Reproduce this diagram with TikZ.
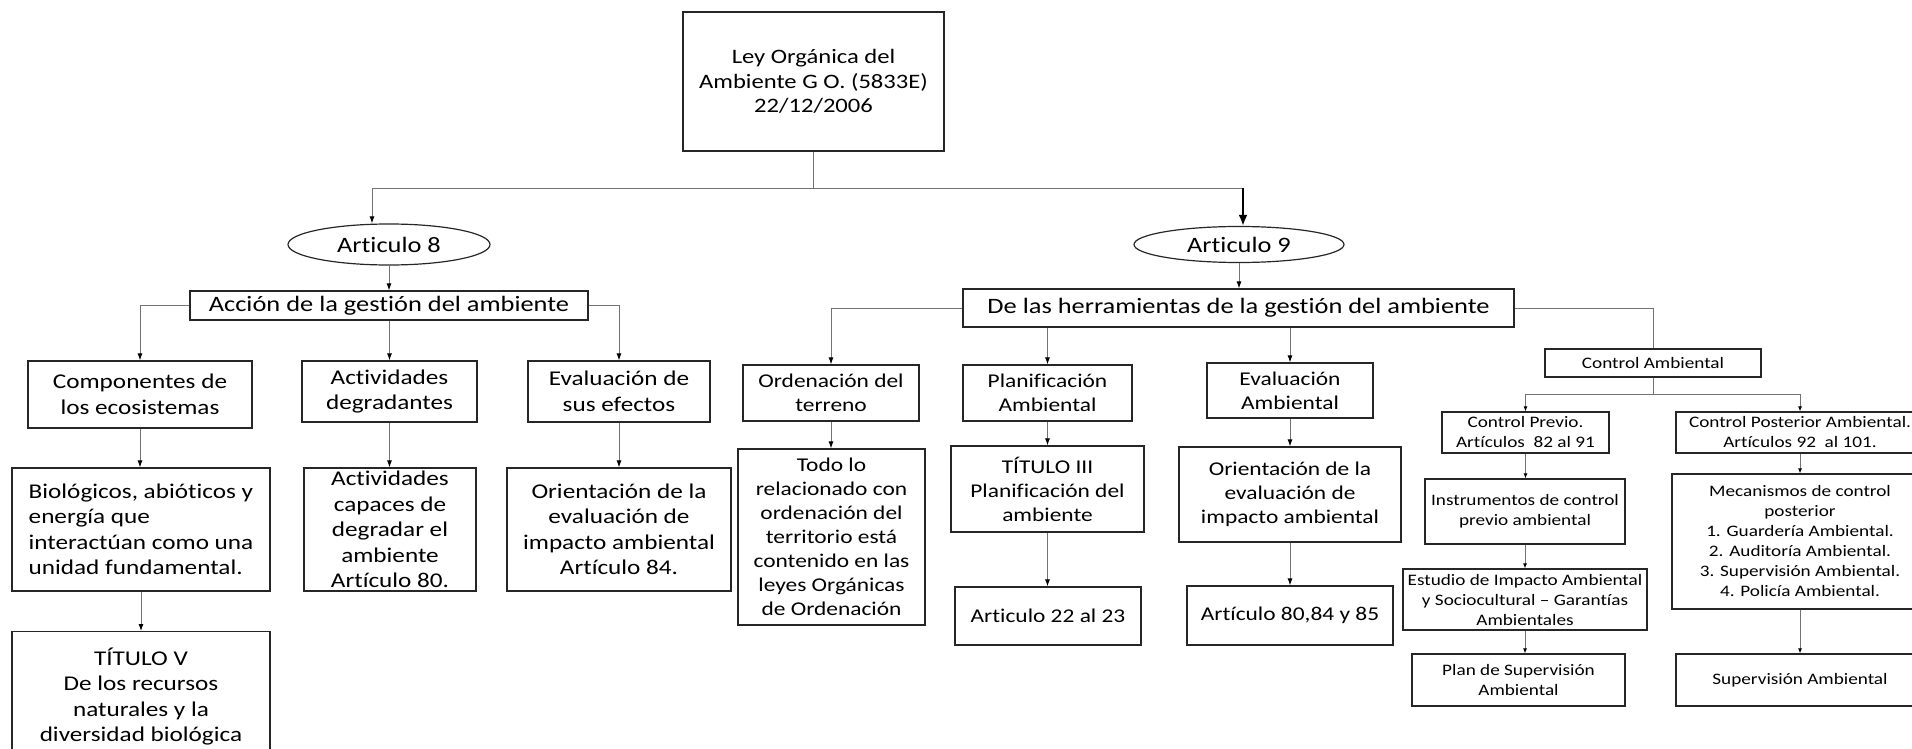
\documentclass[tikz,border=0pt]{standalone}
\usepackage{fontspec}
\setmainfont{Carlito}[FakeStretch=1.2,Ligatures=NoCommon]
\usetikzlibrary{arrows.meta,shapes.geometric}
\begin{document}
\begin{tikzpicture}[x=1pt,y=-1pt,
  box/.style={draw=black!85,line width=1.2pt,align=center,inner sep=1pt},
  oval/.style={ellipse,draw=black!85,line width=1.2pt,inner sep=0pt},
  fa/.style={font=\fontsize{22}{26}\selectfont},
  fb/.style={font=\fontsize{21}{25.5}\selectfont},
  fc/.style={font=\fontsize{19.5}{24}\selectfont},
  fd/.style={font=\fontsize{16}{20}\selectfont},
  conn/.style={draw=black!55,line width=0.9pt},
  arr/.style={conn,-{Latex[length=7pt,width=5pt,color=black]}},
  sarr/.style={conn,-{Latex[length=5pt,width=4pt,color=black]}},
  bigarr/.style={draw=black,line width=2.4pt,-{Latex[length=11pt,width=9pt]}}]
\useasboundingbox (0,0) rectangle (1912,749);
\node[box,font=\fontsize{20.5}{24.5}\selectfont,minimum width=261pt,minimum height=139pt] (ley) at (813.5,81.5) {Ley Orgánica del\\Ambiente G O. (5833E)\\22/12/2006};
\node[oval,fa,minimum width=202pt,minimum height=41pt] (art8) at (389,244.5) {Articulo 8};
\node[box,fa,minimum width=398pt,minimum height=29pt] (accion) at (389,305.5) {Acción de la gestión del ambiente};
\node[box,fb,minimum width=224pt,minimum height=67pt] (comp) at (140,394.5) {Componentes de\\los ecosistemas};
\node[box,fb,minimum width=175pt,minimum height=61pt] (degr) at (389.5,391.5) {Actividades\\degradantes};
\node[box,fb,minimum width=182pt,minimum height=61pt] (efec) at (619,391.5) {Evaluación de\\sus efectos};
\node[box,fb,align=left,minimum width=258pt,minimum height=123pt] (bio) at (141,529.5) {Biológicos, abióticos y\\energía que\\interactúan como una\\unidad fundamental.};
\node[box,fb,inner sep=0pt,minimum width=172pt,minimum height=123pt] (capaz) at (390,529.5) {Actividades\\capaces de\\degradar el\\ambiente\\Artículo 80.};
\node[box,fb,minimum width=224pt,minimum height=123pt] (orie1) at (619,529.5) {Orientación de la\\evaluación de\\impacto ambiental\\Artículo 84.};
\node[box,fb,anchor=north,minimum width=258pt,minimum height=130pt] (tit5) at (141,631) {TÍTULO V\\De los recursos\\naturales y la\\diversidad biológica};
\node[oval,fa,minimum width=210pt,minimum height=36pt] (art9) at (1239,244.5) {Articulo 9};
\node[box,fa,minimum width=551pt,minimum height=38pt] (herr) at (1238.5,308) {De las herramientas de la gestión del ambiente};
\node[box,fc,minimum width=176pt,minimum height=56pt] (orden) at (831,393) {Ordenación del\\terreno};
\node[box,fc,minimum width=169pt,minimum height=56pt] (planif) at (1047.5,393) {Planificación\\Ambiental};
\node[box,fc,minimum width=166pt,minimum height=55pt] (evamb) at (1290,390.5) {Evaluación\\Ambiental};
\node[box,fd,minimum width=216pt,minimum height=28pt] (ctrl) at (1653,363) {Control Ambiental};
\node[box,fc,minimum width=187pt,minimum height=176pt] (todo) at (831.5,537) {Todo lo\\relacionado con\\ordenación del\\territorio está\\contenido en las\\leyes Orgánicas\\de Ordenación};
\node[box,fc,minimum width=193pt,minimum height=86pt] (tit3) at (1047.5,489) {TÍTULO III\\Planificación del\\ambiente};
\node[box,fc,minimum width=222pt,minimum height=95pt] (orie2) at (1290,494.5) {Orientación de la\\evaluación de\\impacto ambiental};
\node[box,fc,minimum width=186pt,minimum height=58pt] (a22) at (1048,616) {Articulo 22 al 23};
\node[box,fc,minimum width=206pt,minimum height=59pt] (a80) at (1290,615.5) {Artículo 80,84 y 85};
\node[box,fd,minimum width=167pt,minimum height=41pt] (previo) at (1525.5,432.5) {Control Previo.\\Artículos\ \ 82 al 91};
\node[box,fd,minimum width=248pt,minimum height=41pt] (poster) at (1800,432.5) {Control Posterior Ambiental.\\Artículos 92\ \ al 101.};
\node[box,fd,minimum width=200pt,minimum height=65pt] (instr) at (1525,511.5) {Instrumentos de control\\previo ambiental};
\node[box,fd,minimum width=244pt,minimum height=61pt] (estud) at (1525,599.5) {Estudio de Impacto Ambiental\\y Sociocultural – Garantías\\Ambientales};
\node[box,fd,minimum width=213pt,minimum height=52pt] (plan) at (1518.5,680) {Plan de Supervisión\\Ambiental};
\node[box,fd,minimum width=256pt,minimum height=135pt] (mecan) at (1800,541.5) {Mecanismos de control\\posterior\\1. Guardería Ambiental.\\2. Auditoría Ambiental.\\3. Supervisión Ambiental.\\4. Policía Ambiental.};
\node[box,fd,minimum width=248pt,minimum height=52pt] (superv) at (1800,680) {Supervisión Ambiental};
\coordinate (bus) at (813.5,188);
\coordinate (turn) at (1243,188);
\coordinate (cbus) at (1653,394);
\draw[conn] (ley) -- (bus);
\draw[arr] (bus) -| ([xshift=-17pt]art8.north);
\draw[conn] (bus) -- (turn);
\draw[bigarr] (turn) -- ([xshift=4pt]art9.north);
\draw[arr] (art8.south) -- (art8.south |- accion.north);
\draw[arr] (accion.west) -| (comp.north);
\draw[arr] (accion.south -| degr.north) -- (degr.north);
\draw[arr] (accion.east) -| (efec.north);
\draw[arr] (comp.south) -- (comp.south |- bio.north);
\draw[arr] (bio.south) -- (bio.south |- tit5.north);
\draw[arr] (degr.south) -- (degr.south |- capaz.north);
\draw[arr] (efec.south) -- (efec.south |- orie1.north);
\draw[arr] (art9.south) -- (art9.south |- herr.north);
\draw[arr] (herr.west) -| (orden.north);
\draw[arr] (planif.north |- herr.south) -- (planif.north);
\draw[arr] (evamb.north |- herr.south) -- (evamb.north);
\draw[conn] (herr.east) -| (ctrl.north);
\draw[arr] (orden.south) -- (orden.south |- todo.north);
\draw[arr] (planif.south) -- (planif.south |- tit3.north);
\draw[arr] (tit3.south) -- (tit3.south |- a22.north);
\draw[arr] (evamb.south) -- (evamb.south |- orie2.north);
\draw[arr] (orie2.south) -- (orie2.south |- a80.north);
\draw[conn] (ctrl) -- (cbus);
\draw[sarr] (cbus) -| (previo.north);
\draw[sarr] (cbus) -| (poster.north);
\draw[sarr] (previo.south) -- (previo.south |- instr.north);
\draw[sarr] (instr.south) -- (instr.south |- estud.north);
\draw[sarr] (estud.south) -- (estud.south |- plan.north);
\draw[sarr] (poster.south) -- (poster.south |- mecan.north);
\draw[sarr] (mecan.south) -- (mecan.south |- superv.north);
\end{tikzpicture}
\end{document}
